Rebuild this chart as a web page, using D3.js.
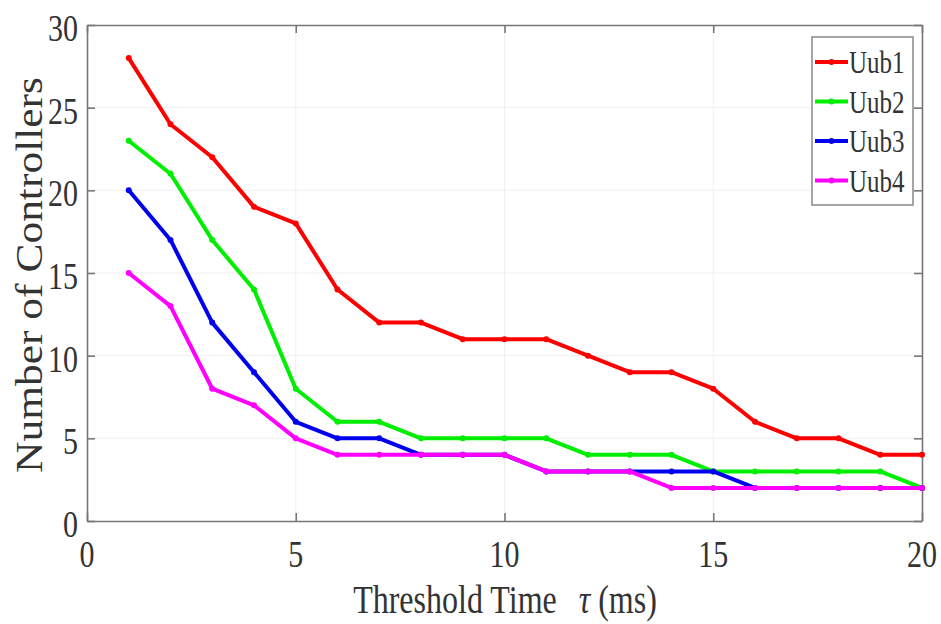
<!DOCTYPE html>
<html><head><meta charset="utf-8">
<script src="https://cdn.jsdelivr.net/npm/d3@7/dist/d3.min.js"></script>
<style>
html,body{margin:0;padding:0;background:#fff;}
text{font-family:"Liberation Serif","Times New Roman",serif;fill:#333;}
</style></head>
<body>
<svg id="chart" width="941" height="624"></svg>
<script>
const xValues = [1,2,3,4,5,6,7,8,9,10,11,12,13,14,15,16,17,18,19,20];
const seriesNames = ["Uub1","Uub2","Uub3","Uub4"];
const uub1 = [28,24,22,19,18,14,12,12,11,11,11,10,9,9,8,6,5,5,4,4];
const uub2 = [23,21,17,14,8,6,6,5,5,5,5,4,4,4,3,3,3,3,3,2];
const uub3 = [20,17,12,9,6,5,5,4,4,4,3,3,3,3,3,2,2,2,2,2];
const uub4 = [15,13,8,7,5,4,4,4,4,4,3,3,3,2,2,2,2,2,2,2];
const seriesColors = ["#ff0000","#00ee00","#0000ee","#ff00ff"];
const xTicks = [0,5,10,15,20];
const yTicks = [0,5,10,15,20,25,30];
const xLabel = "Threshold Time";
const yLabel = "Number of Controllers";

const series = [uub1,uub2,uub3,uub4];
const svg = d3.select("#chart");
const L=87, R=922, T=25, B=521;
const x = d3.scaleLinear().domain([0,20]).range([L,R]);
const y = d3.scaleLinear().domain([0,30]).range([B,T]);
const SY = 1.25;

// grid
const g = svg.append("g");
g.selectAll("line.gx").data(xTicks.slice(1,-1)).join("line")
  .attr("x1",d=>x(d)).attr("x2",d=>x(d)).attr("y1",T).attr("y2",B)
  .attr("stroke","#efefef").attr("stroke-width",1);
g.selectAll("line.gy").data(yTicks.slice(1,-1)).join("line")
  .attr("x1",L).attr("x2",R).attr("y1",d=>y(d)).attr("y2",d=>y(d))
  .attr("stroke","#efefef").attr("stroke-width",1);

// axes (ticks inside)
const axB = svg.append("g").attr("transform",`translate(0,${B})`)
  .call(d3.axisBottom(x).tickValues(xTicks).tickSizeInner(-8).tickSizeOuter(0).tickFormat(""));
const axT = svg.append("g").attr("transform",`translate(0,${T})`)
  .call(d3.axisTop(x).tickValues(xTicks).tickSizeInner(-8).tickSizeOuter(0).tickFormat(""));
const axL = svg.append("g").attr("transform",`translate(${L},0)`)
  .call(d3.axisLeft(y).tickValues(yTicks).tickSizeInner(-8).tickSizeOuter(0).tickFormat(""));
const axR = svg.append("g").attr("transform",`translate(${R},0)`)
  .call(d3.axisRight(y).tickValues(yTicks).tickSizeInner(-8).tickSizeOuter(0).tickFormat(""));
[axB,axT,axL,axR].forEach(a=>{
  a.selectAll("path,line").attr("stroke","#777").attr("stroke-width",1.6);
});

// tick labels
svg.append("g").selectAll("text").data(xTicks).join("text")
  .attr("text-anchor","middle").attr("font-size",30)
  .attr("transform",d=>`translate(${x(d)},567) scale(1,${SY})`)
  .text(d=>d);
svg.append("g").selectAll("text").data(yTicks).join("text")
  .attr("text-anchor","end").attr("font-size",30)
  .attr("transform",d=>`translate(78,${y(d)+16}) scale(1,${SY})`)
  .text(d=>d);

// axis titles
const xt = svg.append("text").attr("text-anchor","middle").attr("font-size",32)
  .attr("transform",`translate(505,613) scale(1,${SY})`);
xt.append("tspan").text(xLabel);
xt.append("tspan").attr("font-style","italic").attr("dx",22).text("τ");
xt.append("tspan").text(" (ms)");

svg.append("text").attr("text-anchor","middle").attr("font-size",38)
  .attr("transform","translate(42,275) rotate(-90)")
  .attr("textLength",396).attr("lengthAdjust","spacingAndGlyphs")
  .text(yLabel);

// lines
const line = d3.line().x((d,i)=>x(xValues[i])).y(d=>y(d));
const lg = svg.append("g");
series.forEach((s,k)=>{
  lg.append("path").datum(s).attr("d",line).attr("fill","none")
    .attr("stroke",seriesColors[k]).attr("stroke-width",4).attr("stroke-linejoin","round");
  lg.append("g").selectAll("circle").data(s).join("circle")
    .attr("cx",(d,i)=>x(xValues[i])).attr("cy",d=>y(d)).attr("r",3)
    .attr("fill",seriesColors[k]);
});

// legend
const leg = svg.append("g");
leg.append("rect").attr("x",812).attr("y",37).attr("width",101).attr("height",168)
  .attr("fill","#fff").attr("stroke","#888").attr("stroke-width",1.5);
seriesNames.forEach((n,k)=>{
  const by = 73 + k*39.5;
  leg.append("line").attr("x1",815).attr("x2",848).attr("y1",by-11).attr("y2",by-11)
    .attr("stroke",seriesColors[k]).attr("stroke-width",4);
  leg.append("circle").attr("cx",831.5).attr("cy",by-11).attr("r",3).attr("fill",seriesColors[k]);
  leg.append("text").attr("font-size",25)
    .attr("transform",`translate(849,${by}) scale(1,${SY})`).text(n);
});
</script>
</body></html>
